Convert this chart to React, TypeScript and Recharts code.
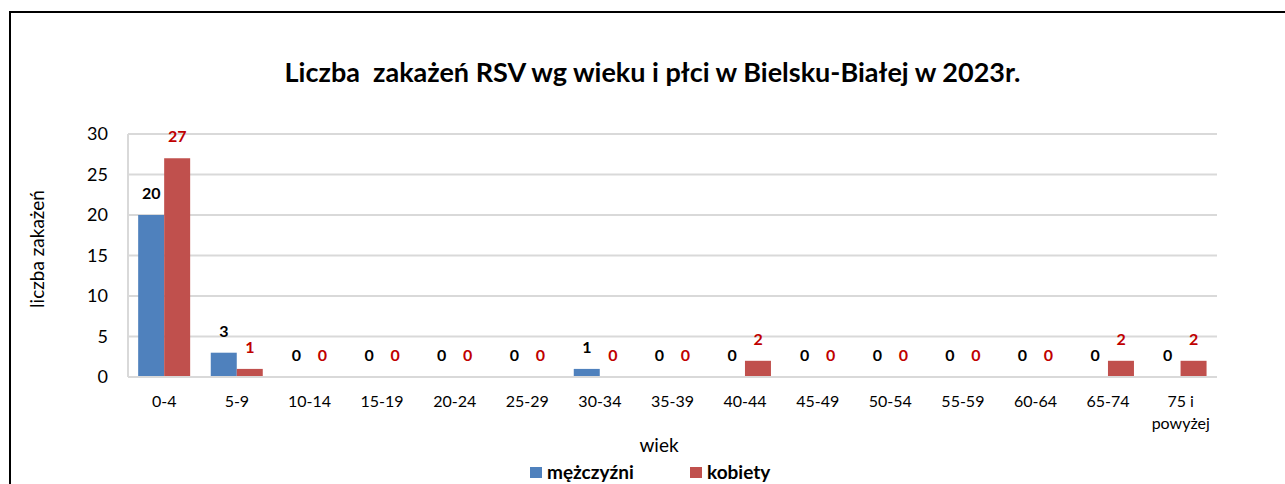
import React from 'react';
import { ComposedChart, Bar, Line, XAxis, YAxis, CartesianGrid, LabelList } from 'recharts';

const AGE_GROUPS = ['0-4', '5-9', '10-14', '15-19', '20-24', '25-29', '30-34', '35-39', '40-44', '45-49', '50-54', '55-59', '60-64', '65-74', '75 i powyżej'];
const MEN = [20, 3, 0, 0, 0, 0, 1, 0, 0, 0, 0, 0, 0, 0, 0];
const WOMEN = [27, 1, 0, 0, 0, 0, 0, 0, 2, 0, 0, 0, 0, 2, 2];
const Y_TICKS = [0, 5, 10, 15, 20, 25, 30];

const FONT = 'Lato, "Open Sans", sans-serif';
const BLUE = '#4f81bd';
const RED = '#c0504d';

const data = AGE_GROUPS.map((age, i) => ({ age, men: MEN[i], women: WOMEN[i] }));

function AgeTick(props: any) {
  const { x, y, payload } = props;
  const text: string = payload.value;
  const words = text.split(' ');
  const lines = words.length > 1 && text.length > 8 ? [words.slice(0, -1).join(' '), words[words.length - 1]] : [text];
  return (
    <text x={x} y={y} textAnchor="middle" fontFamily={FONT} fontSize={16} fill="#000">
      {lines.map((l, i) => (
        <tspan key={i} x={x} dy={22}>
          {l}
        </tspan>
      ))}
    </text>
  );
}

// labels drawn from invisible lines so that zero values get a label too
const valueLabel = (color: string, dx: number) => (props: any) => {
  const { x, y, value } = props;
  return (
    <text x={Number(x) + dx} y={Number(y) - 16} textAnchor="middle" fontFamily={FONT} fontSize={16} fontWeight={700} fill={color}>
      {value}
    </text>
  );
};

function LegendItem({ color, label, left }: { color: string; label: string; left: number }) {
  return (
    <div style={{ position: 'absolute', left, top: 461, display: 'flex', alignItems: 'center' }}>
      <span style={{ width: 12, height: 11, background: color, marginRight: 5, display: 'inline-block' }} />
      <span style={{ fontWeight: 700, fontSize: 19, lineHeight: '22px' }}>{label}</span>
    </div>
  );
}

export default function App() {
  return (
    <div style={{ position: 'absolute', left: 0, top: 0, width: 1285, height: 484, overflow: 'hidden', background: '#fff', fontFamily: FONT, color: '#000' }}>
      <div style={{ position: 'absolute', left: 9, top: 11, width: 1300, height: 500, borderTop: '2px solid #000', borderLeft: '2px solid #000' }} />
      <div style={{ position: 'absolute', left: 0, width: 1305, top: 55, textAlign: 'center', fontSize: 27, fontWeight: 700, whiteSpace: 'pre', lineHeight: '34px' }}>
        {'Liczba  zakażeń RSV wg wieku i płci w Bielsku-Białej w 2023r.'}
      </div>
      <div style={{ position: 'absolute', left: 36, top: 249, transform: 'translate(-50%, -50%) rotate(-90deg)', fontSize: 19, whiteSpace: 'nowrap' }}>
        liczba zakażeń
      </div>
      <div style={{ position: 'absolute', left: 659, top: 444, transform: 'translate(-50%, -50%)', fontSize: 19 }}>
        wiek
      </div>
      <LegendItem color={BLUE} label="mężczyźni" left={530} />
      <LegendItem color={RED} label="kobiety" left={690} />
      <div style={{ position: 'absolute', left: 0, top: 0 }}>
        <ComposedChart width={1285} height={484} data={data} margin={{ top: 134, right: 68, bottom: 47, left: 68 }} barCategoryGap="14%" barGap={0}>
          <CartesianGrid vertical={false} stroke="#d9d9d9" strokeWidth={2} />
          <XAxis dataKey="age" interval={0} tick={<AgeTick />} tickLine={false} axisLine={{ stroke: '#d9d9d9', strokeWidth: 2 }} tickSize={0} tickMargin={8} height={60} />
          <YAxis domain={[0, 30]} ticks={Y_TICKS} width={60} tickLine={false} tickSize={0} tickMargin={20} axisLine={{ stroke: '#d9d9d9', strokeWidth: 2 }} tick={{ fontFamily: FONT, fontSize: 18, fill: '#000' }} />
          <YAxis yAxisId="r" orientation="right" domain={[0, 30]} width={0} tick={false} tickLine={false} axisLine={{ stroke: '#d9d9d9', strokeWidth: 2 }} />
          <Bar dataKey="men" fill={BLUE} isAnimationActive={false} />
          <Bar dataKey="women" fill={RED} isAnimationActive={false} />
          <Line dataKey="men" stroke="none" dot={false} activeDot={false} legendType="none" isAnimationActive={false}>
            <LabelList dataKey="men" content={valueLabel('#000', -13)} />
          </Line>
          <Line dataKey="women" stroke="none" dot={false} activeDot={false} legendType="none" isAnimationActive={false}>
            <LabelList dataKey="women" content={valueLabel('#c00000', 13)} />
          </Line>
        </ComposedChart>
      </div>
    </div>
  );
}
